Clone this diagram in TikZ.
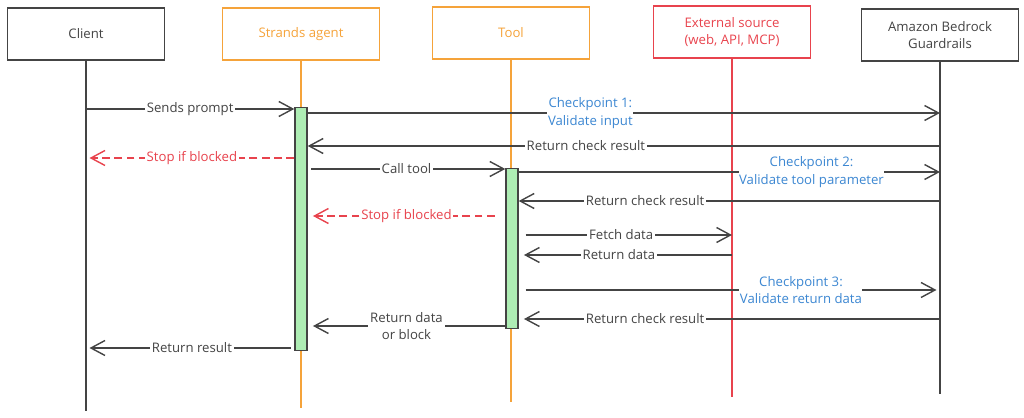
\documentclass[tikz,border=0pt]{standalone}
\usepackage{fontspec}
\setmainfont{Open Sans}
\usepackage{tikz}
\usetikzlibrary{arrows.meta,positioning,calc}
\definecolor{inkgray}{HTML}{444444}
\definecolor{agentorange}{HTML}{F5A33A}
\definecolor{extred}{HTML}{E8434D}
\definecolor{chkblue}{HTML}{3C87D2}
\definecolor{barfill}{HTML}{AEEDB4}
\tikzset{
  >={Straight Barb[length=2.8mm,width=3mm]},
  head/.style={draw=inkgray, line width=0.9pt, minimum width=3.14cm, minimum height=1.04cm, align=center, text=inkgray, font=\fontsize{7.5}{10}\selectfont},
  life/.style={line width=0.7pt, draw=inkgray},
  actbar/.style={draw=inkgray, fill=barfill, line width=0.8pt, minimum width=0.24cm, inner sep=0pt, anchor=north},
  msg/.style={->, draw=inkgray, line width=0.8pt},
  stop/.style={msg, draw=extred, dash pattern=on 4.5pt off 2.5pt},
  lbl/.style={fill=white, inner sep=1pt, text=inkgray, font=\fontsize{7.5}{10}\selectfont},
  chk/.style={lbl, inner xsep=0.3pt, text=chkblue, align=center},
}
\begin{document}
\begin{tikzpicture}[x=0.02cm, y=-0.02cm]
  \useasboundingbox (0,0) rectangle (1024,418);
  % participants
  \node[head] (client) at (86,34) {Client};
  \node[head, draw=agentorange, text=agentorange] (agent) at (301,34) {Strands agent};
  \node[head, draw=agentorange, text=agentorange] (tool) at (511,33) {Tool};
  \node[head, draw=extred, text=extred] (ext) at (732,32) {External source\\(web, API, MCP)};
  \node[head] (guard) at (940,35) {Amazon Bedrock\\Guardrails};
  \coordinate (clientend) at (86,411);
  \coordinate (agentend) at (301,408);
  \coordinate (toolend) at (511,402);
  \coordinate (extend) at (732,397);
  \coordinate (guardend) at (940,394);
  \draw[life] (client) -- (clientend);
  \draw[life, draw=agentorange] (agent) -- (agentend);
  \draw[life, draw=agentorange] (tool) -- (toolend);
  \draw[life, draw=extred] (ext) -- (extend);
  \draw[life] (guard) -- (guardend);
  % activation bars
  \node[actbar, minimum height=4.86cm] (abar) at (301,107) {};
  \node[actbar, minimum height=3.2cm] (tbar) at (512,168) {};
  % message rows
  \foreach \n/\yy in {prompt/109, chkone/113, retone/146, stopone/158, call/169,
      chktwo/172, rettwo/201, stoptwo/216, fetch/235, data/255, chkthree/290,
      retthree/319, back/326, result/348}
    \coordinate (\n) at (0,\yy);
  \draw[msg] (client |- prompt) -- (abar.west |- prompt) node[lbl, midway] {Sends prompt};
  \draw[msg] (abar.east |- chkone) -- (guard |- chkone) node[chk, pos=0.447] {Checkpoint 1:\\Validate input};
  \draw[msg] (guard |- retone) -- (abar.east |- retone) node[lbl, pos=0.56] {Return check result};
  \draw[stop] (abar.west |- stopone) -- ([xshift=2pt]client |- stopone) node[lbl, text=extred, midway] {Stop if blocked};
  \draw[msg, shorten <=2pt] (abar.east |- call) -- (tbar.west |- call) node[lbl, midway] {Call tool};
  \draw[msg] (tbar.east |- chktwo) -- (guard |- chktwo) node[chk, pos=0.695] {Checkpoint 2:\\Validate tool parameter};
  \draw[msg] (guard |- rettwo) -- (tbar.east |- rettwo) node[lbl, pos=0.7] {Return check result};
  \draw[stop, shorten <=6pt, shorten >=3pt] (tbar.west |- stoptwo) -- (abar.east |- stoptwo) node[lbl, text=extred, midway] {Stop if blocked};
  \draw[msg, shorten <=4pt] (tbar.east |- fetch) -- (ext |- fetch) node[lbl, pos=0.48] {Fetch data};
  \draw[msg, shorten >=3pt] (ext |- data) -- (tbar.east |- data) node[lbl, pos=0.53] {Return data};
  \draw[msg, shorten <=4pt, shorten >=2pt] (tbar.east |- chkthree) -- (guard |- chkthree) node[chk, pos=0.67] {Checkpoint 3:\\Validate return data};
  \draw[msg, shorten >=3pt] (guard |- retthree) -- (tbar.east |- retthree) node[lbl, pos=0.7] {Return check result};
  \draw[msg, shorten >=3pt] (tbar.west |- back) -- (abar.east |- back) node[lbl, midway, align=center] {Return data\\or block};
  \draw[msg, shorten <=2pt] (abar.west |- result) -- ([xshift=2pt]client |- result) node[lbl, midway] {Return result};
\end{tikzpicture}
\end{document}
